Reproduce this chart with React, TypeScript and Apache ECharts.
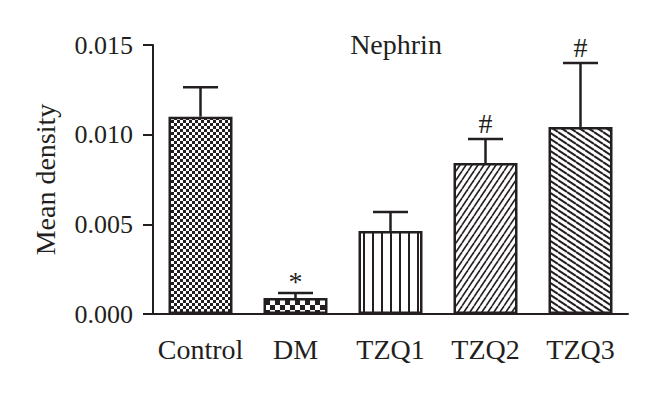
import React, { useEffect, useRef } from "react";
import * as echarts from "echarts";

const categories = ["Control", "DM", "TZQ1", "TZQ2", "TZQ3"];
const means = [0.0110, 0.00089, 0.00463, 0.00842, 0.01043];
const errors = [0.00164, 0.00028, 0.00106, 0.00134, 0.00357];
const marks = ["", "*", "", "#", "#"];
const yTicks = [0, 0.005, 0.01, 0.015];

const INK = "#231f20";
const FONT = "Liberation Serif";

function makeTile(w: number, h: number, draw: (c: CanvasRenderingContext2D) => void): string {
  const cv = document.createElement("canvas");
  cv.width = w;
  cv.height = h;
  const c = cv.getContext("2d")!;
  c.fillStyle = "#ffffff";
  c.fillRect(0, 0, w, h);
  draw(c);
  return cv.toDataURL();
}

function patterns() {
  const checkFine = makeTile(6, 6, (c) => {
    c.fillStyle = INK;
    c.fillRect(0, 0, 6, 6);
    c.fillStyle = "#ffffff";
    c.fillRect(0, 0, 3, 3);
    c.fillRect(3, 3, 3, 3);
  });
  const checkCoarse = makeTile(10, 10, (c) => {
    c.fillStyle = INK;
    c.fillRect(0, 0, 10, 10);
    c.fillStyle = "#ffffff";
    c.fillRect(0, 0, 5, 5);
    c.fillRect(5, 5, 5, 5);
  });
  const vert = makeTile(9, 4, (c) => {
    c.fillStyle = INK;
    c.fillRect(3, 0, 2, 4);
  });
  const fwd = makeTile(6, 9, (c) => {
    c.strokeStyle = INK;
    c.lineWidth = 1.6;
    for (const dx of [-6, 0, 6]) {
      c.beginPath();
      c.moveTo(dx, 9);
      c.lineTo(dx + 6, 0);
      c.stroke();
    }
  });
  const back = makeTile(9, 6, (c) => {
    c.strokeStyle = INK;
    c.lineWidth = 2;
    for (const dy of [-6, 0, 6]) {
      c.beginPath();
      c.moveTo(0, dy);
      c.lineTo(9, dy + 6);
      c.stroke();
    }
  });
  return [checkFine, checkCoarse, vert, fwd, back];
}

export default function App() {
  const ref = useRef<HTMLDivElement>(null);
  useEffect(() => {
    if (!ref.current) return;
    document.body.style.margin = "0";
    const chart = echarts.init(ref.current, undefined, { renderer: "svg" });
    const pats = patterns();
    const barData = means.map((v, i) => ({
      value: v,
      itemStyle: {
        color: { image: pats[i], repeat: "repeat" } as any,
        borderColor: INK,
        borderWidth: 2.5,
      },
    }));
    const errData = means.map((v, i) => [i, v, v + errors[i]]);
    chart.setOption({
      animation: false,
      backgroundColor: "#ffffff",
      textStyle: { fontFamily: FONT },
      grid: { left: 153, right: 32, top: 45, bottom: 81 },
      graphic: [
        {
          type: "text",
          x: 396,
          y: 44,
          style: {
            text: "Nephrin",
            font: `28px "${FONT}"`,
            fill: INK,
            textAlign: "center",
            textVerticalAlign: "middle",
          },
        },
      ],
      xAxis: {
        type: "category",
        data: categories,
        boundaryGap: true,
        axisLine: { lineStyle: { color: INK, width: 2 } },
        axisTick: { alignWithLabel: true, length: 10, lineStyle: { color: INK, width: 2 } },
        axisLabel: { color: INK, fontSize: 28, fontFamily: FONT, margin: 21, interval: 0 },
      },
      yAxis: {
        type: "value",
        min: yTicks[0],
        max: yTicks[yTicks.length - 1],
        interval: 0.005,
        name: "Mean density",
        nameLocation: "middle",
        nameGap: 94,
        nameTextStyle: { color: INK, fontSize: 28, fontFamily: FONT },
        axisLine: { show: true, lineStyle: { color: INK, width: 2 } },
        axisTick: { show: true, length: 10, lineStyle: { color: INK, width: 2 } },
        splitLine: { show: false },
        axisLabel: {
          color: INK,
          fontSize: 26,
          fontFamily: FONT,
          margin: 20,
          formatter: (v: number) => v.toFixed(3),
        },
      },
      series: [
        {
          type: "bar",
          data: barData,
          barWidth: 64,
          z: 2,
        },
        {
          type: "custom",
          z: 3,
          data: errData,
          renderItem: (params: any, api: any) => {
            const i = api.value(0);
            const lo = api.coord([i, api.value(1)]);
            const hi = api.coord([i, api.value(2)]);
            const mark = marks[params.dataIndex];
            const half = 17.5;
            const children: any[] = [
              {
                type: "line",
                shape: { x1: lo[0], y1: lo[1], x2: hi[0], y2: hi[1] },
                style: { stroke: INK, lineWidth: 2.5 },
              },
              {
                type: "line",
                shape: { x1: hi[0] - half, y1: hi[1], x2: hi[0] + half, y2: hi[1] },
                style: { stroke: INK, lineWidth: 2.5 },
              },
            ];
            if (mark) {
              children.push({
                type: "text",
                x: hi[0],
                y: mark === "*" ? hi[1] + 2 : hi[1] - 1,
                style: {
                  text: mark,
                  font: `28px "${FONT}"`,
                  fill: INK,
                  textAlign: "center",
                  textVerticalAlign: "bottom",
                },
              });
            }
            return { type: "group", children };
          },
        },
      ],
    });
    return () => chart.dispose();
  }, []);
  return <div ref={ref} style={{ width: 660, height: 395 }} />;
}
